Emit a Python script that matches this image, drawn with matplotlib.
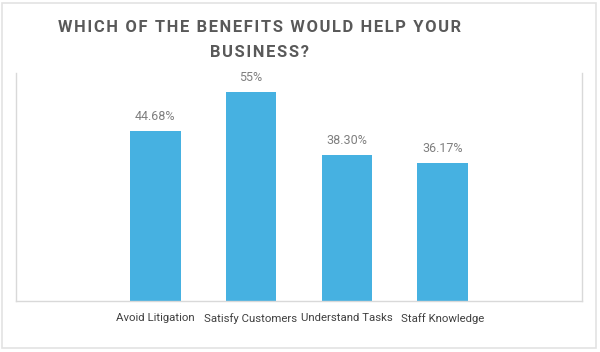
import matplotlib.pyplot as plt
from matplotlib.patches import Rectangle

categories = ["Avoid Litigation", "Satisfy Customers", "Understand Tasks", "Staff Knowledge"]
values = [44.68, 55, 38.30, 36.17]
value_labels = ["44.68%", "55%", "38.30%", "36.17%"]
title_lines = ["WHICH OF THE BENEFITS WOULD HELP YOUR", "BUSINESS?"]

bar_color = "#46B1E1"
line_gray = "#D9D9D9"

plt.rcParams["font.family"] = ["Roboto", "DejaVu Sans"]

fig = plt.figure(figsize=(6, 3.52), dpi=100)
fig.patch.set_facecolor("white")

# outer chart border
fig.patches.append(Rectangle((0.004, 0.012), 0.99, 0.98, transform=fig.transFigure,
                             fill=False, edgecolor="#E3E3E3", linewidth=1.2))

ax = fig.add_axes([0.0267, 0.1457, 0.9433, 0.647])
x = list(range(len(categories)))
ax.bar(x, values, width=0.53, color=bar_color, zorder=2)

for xi, v, lab in zip(x, values, value_labels):
    ax.annotate(lab, (xi, v), xytext=(0, 6), textcoords="offset points",
                ha="center", va="bottom", fontsize=9, color="#7F7F7F")

ax.set_xlim(-1.45, len(categories) - 1 + 1.45)
ax.set_ylim(0, 60)
ax.set_xticks(x)
ax.set_xticklabels(categories, fontsize=8.2, color="#404040")
ax.tick_params(axis="x", length=0, pad=9)
ax.set_yticks([])
ax.spines["top"].set_visible(False)
for s in ["left", "right", "bottom"]:
    ax.spines[s].set_color(line_gray)
    ax.spines[s].set_linewidth(1)

# title with letter spacing
hair = "\u200a"
for i, line in enumerate(title_lines):
    fig.text(259 / 600, 1 - (32.5 + 24.5 * i) / 352, hair.join(line), ha="center", va="baseline",
             fontsize=11.9, fontweight="bold", color="#595959", family=["Roboto", "DejaVu Sans"])

fig.savefig("out.png", dpi=100)
plt.close(fig)
